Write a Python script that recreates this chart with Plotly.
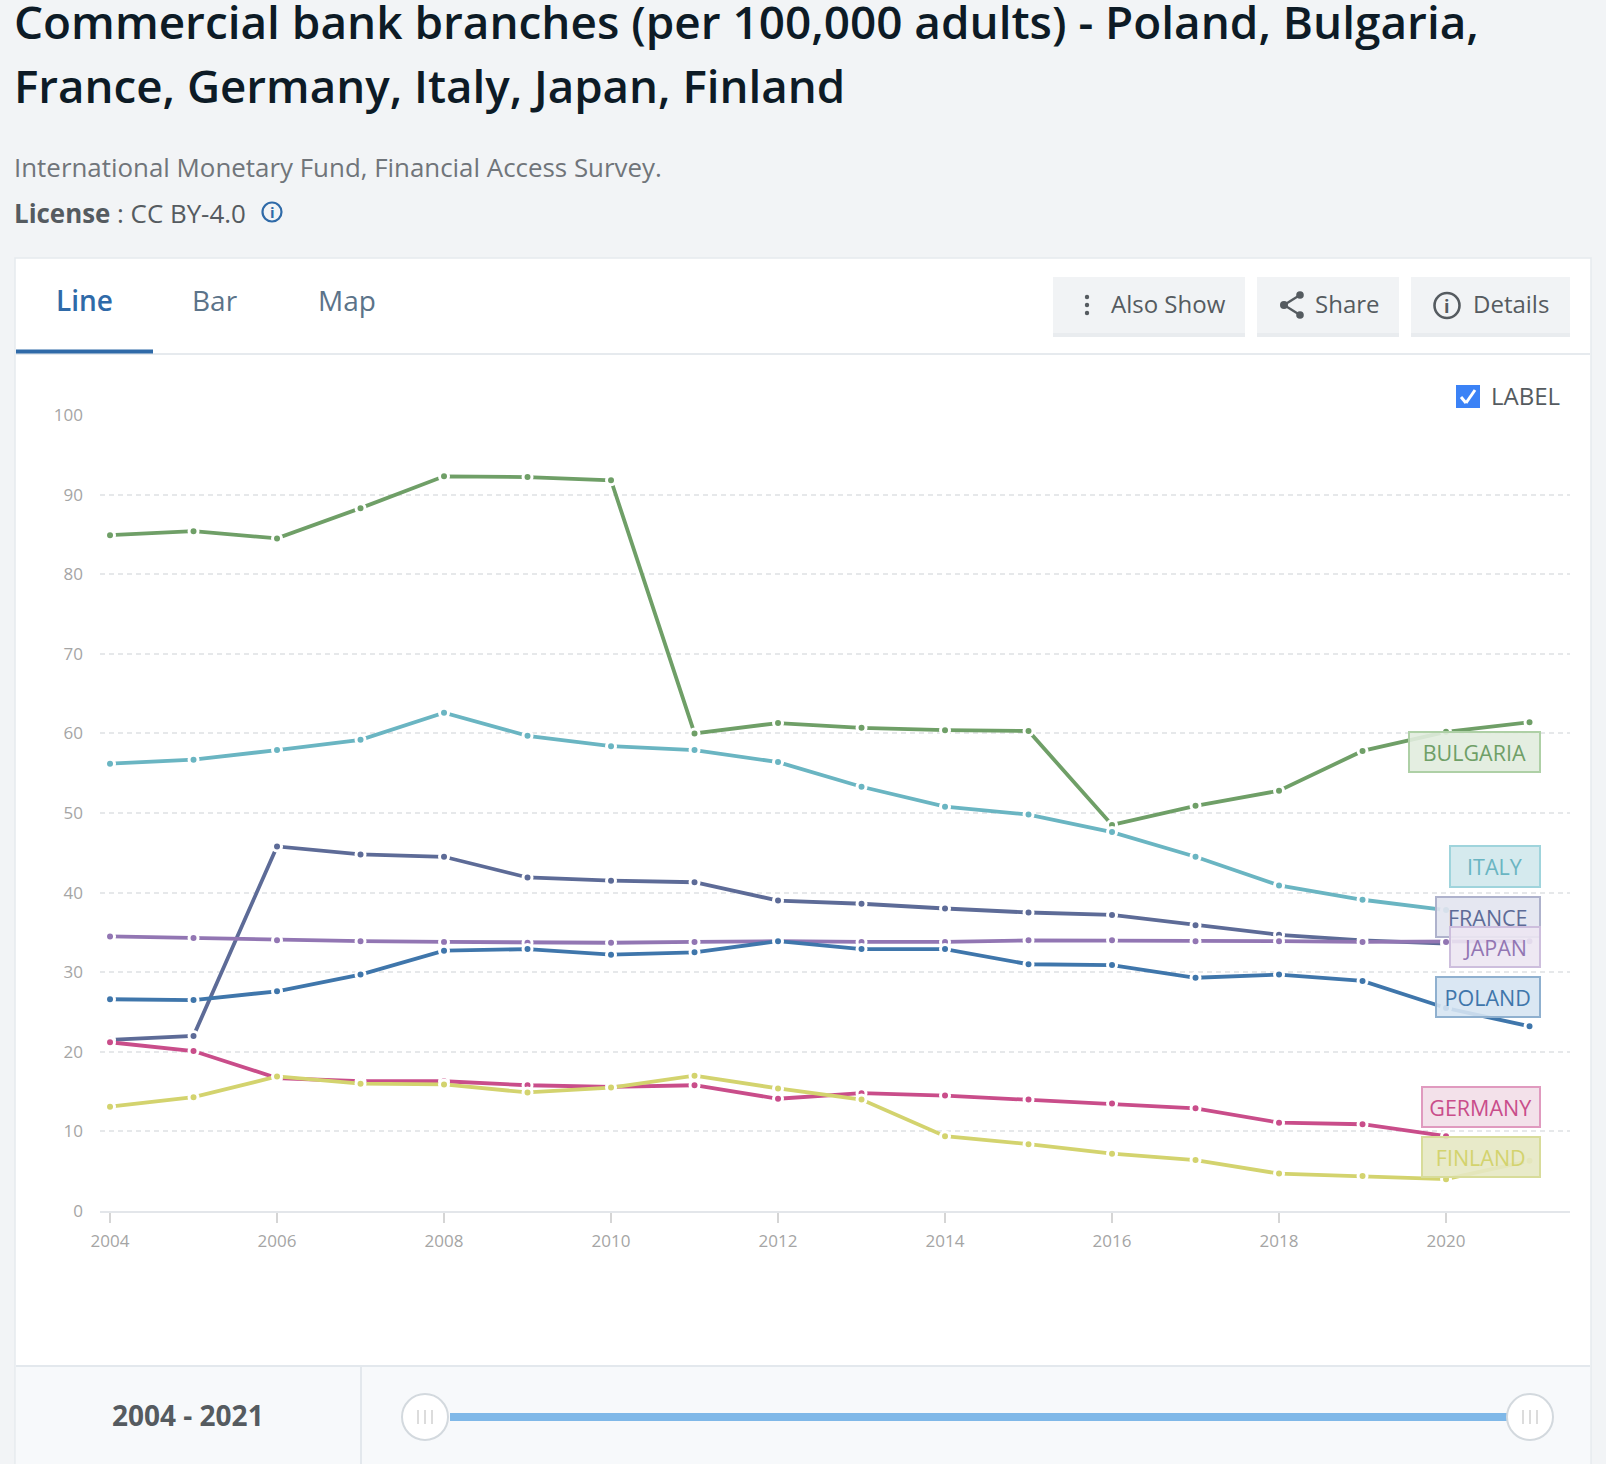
import plotly.graph_objects as go

years = list(range(2004, 2022))
bulgaria = [84.9, 85.4, 84.5, 88.3, 92.3, 92.2, 91.8, 60.0, 61.3, 60.7, 60.4, 60.3, 48.5, 50.9, 52.8, 57.8, 60.2, 61.4]
italy = [56.2, 56.7, 57.9, 59.2, 62.6, 59.7, 58.4, 57.9, 56.4, 53.3, 50.8, 49.8, 47.6, 44.5, 40.9, 39.1, 37.8, None]
france = [21.5, 22.0, 45.8, 44.8, 44.5, 41.9, 41.5, 41.3, 39.0, 38.6, 38.0, 37.5, 37.2, 35.9, 34.7, 34.0, 33.6, None]
japan = [34.5, 34.3, 34.0, 33.9, 33.8, 33.7, 33.7, 33.8, 33.9, 33.8, 33.8, 34.0, 34.0, 33.9, 33.9, 33.8, 33.8, 33.9]
poland = [26.6, 26.5, 27.6, 29.7, 32.7, 32.9, 32.2, 32.5, 33.9, 32.9, 32.9, 31.0, 30.9, 29.3, 29.7, 28.9, 25.5, 23.2]
germany = [21.2, 20.1, 16.7, 16.3, 16.3, 15.8, 15.6, 15.8, 14.1, 14.8, 14.5, 14.0, 13.5, 12.9, 11.1, 10.9, 9.4, None]
finland = [13.1, 14.3, 16.9, 16.0, 15.9, 14.9, 15.5, 17.0, 15.4, 14.0, 9.4, 8.4, 7.2, 6.4, 4.7, 4.4, 4.0, 6.3]

names = ["POLAND", "BULGARIA", "FRANCE", "GERMANY", "ITALY", "JAPAN", "FINLAND"]
values = [poland, bulgaria, france, germany, italy, japan, finland]
colors = ["#3f76ab", "#6f9f67", "#5d6b97", "#c94d8a", "#6ab5c2", "#9276b3", "#d3d36e"]
fills = ["rgba(214,228,242,0.9)", "rgba(225,236,222,0.9)", "rgba(226,228,240,0.9)", "rgba(242,222,232,0.9)",
         "rgba(209,232,237,0.92)", "rgba(236,230,242,0.9)", "rgba(230,232,195,0.9)"]
borders = ["#8fb0cf", "#aed0a6", "#aeb2cc", "#e09abf", "#9fd4dc", "#cdbedd", "#d8dc9a"]
# label box: left, top, right, bottom in page pixels
boxes = [(1435.7, 975.7, 1540.7, 1016), (1408.5, 730.7, 1540.7, 771), (1435.7, 895.7, 1540.7, 936), (1421.7, 1085.7, 1540.7, 1125.7),
         (1449.3, 845.4, 1540.7, 886), (1449.3, 925.7, 1540.7, 966), (1421.7, 1135.7, 1540.7, 1175.7)]

W, H = 1606, 1464
L, R, T, B = 100, 1570, 415, 1211
PW, PH = R - L, B - T
px = lambda x: (x - L) / PW
py = lambda y: 1 - (y - T) / PH
FONT = "Open Sans"

fig = go.Figure()
draw_order = [1, 4, 2, 5, 0, 3, 6]
for i in draw_order:
    fig.add_trace(go.Scatter(x=years, y=values[i], mode="lines+markers", name=names[i], showlegend=False,
                             line=dict(color=colors[i], width=3.8),
                             marker=dict(color=colors[i], size=9, line=dict(color="white", width=3)),
                             cliponaxis=False))

shapes = []
def rect(x0, y0, x1, y1, fill, line=None, lw=0, layer="below"):
    shapes.append(dict(type="rect", xref="paper", yref="paper", x0=px(x0), x1=px(x1), y0=py(y0), y1=py(y1),
                       fillcolor=fill, line=dict(color=line or fill, width=lw), layer=layer))
def seg(x0, y0, x1, y1, color, lw=2, layer="below"):
    shapes.append(dict(type="line", xref="paper", yref="paper", x0=px(x0), x1=px(x1), y0=py(y0), y1=py(y1),
                       line=dict(color=color, width=lw), layer=layer))
def circ(cx, cy, r, fill="rgba(0,0,0,0)", line="rgba(0,0,0,0)", lw=0, layer="below"):
    shapes.append(dict(type="circle", xref="paper", yref="paper", x0=px(cx - r), x1=px(cx + r), y0=py(cy - r), y1=py(cy + r),
                       fillcolor=fill, line=dict(color=line, width=lw), layer=layer))

notes = []
def text(x, y, s, size, color, anchor="left", weight=400):
    notes.append(dict(xref="paper", yref="paper", x=px(x), y=py(y), text=s, showarrow=False, xanchor=anchor, yanchor="middle",
                      align=anchor, font=dict(family=FONT, size=size, color=color, weight=weight)))

# card and panels
rect(15, 258, 1591, 1470, "white", "#e6eaee", 1.5)
seg(16, 354, 1590, 354, "#e6eaee", 2)
rect(16, 349.5, 153, 353.5, "#2f6aa8")
rect(16, 1366, 1590, 1470, "#f7f9fb")
seg(16, 1366, 1590, 1366, "#e3e8ed", 2)
seg(361, 1366, 361, 1470, "#e3e8ed", 2)

# slider
rect(450, 1413, 1507, 1421, "#7fb8e8")
for cx in (425, 1530):
    circ(cx, 1417, 23, "white", "#d3d9de", 2)
    for dx in (-7, 0, 7):
        seg(cx + dx, 1410, cx + dx, 1424, "#dcdcdc", 2)

# buttons
for x0, x1 in ((1053, 1245), (1257, 1399), (1411, 1570)):
    rect(x0, 277, x1, 337, "#e9ecef")
    rect(x0, 277, x1, 333, "#f1f3f5")
for dy in (-8, 0, 8):
    circ(1087, 305 + dy, 2.2, "#555b60")
seg(1284, 305, 1300, 295, "#555b60", 2.4)
seg(1284, 305, 1300, 315, "#555b60", 2.4)
circ(1284, 305, 4, "#555b60")
circ(1300, 295, 3.8, "#555b60")
circ(1300, 315, 3.8, "#555b60")
circ(1447, 305.5, 12.5, "rgba(0,0,0,0)", "#555b60", 2.6)
circ(272, 212, 9.5, "rgba(0,0,0,0)", "#2f6aa8", 2.2)

# checkbox
rect(1456, 385, 1480, 408, "#3b82f6")
seg(1461, 397, 1466, 403, "white", 3)
seg(1466, 403, 1475, 390, "white", 3)

# texts
text(12, 21, "Commercial bank branches (per 100,000 adults) - Poland, Bulgaria,", 45.9, "#0d1b26", weight=600)
text(12, 85, "France, Germany, Italy, Japan, Finland", 45.7, "#0d1b26", weight=600)
text(12, 167, "International Monetary Fund, Financial Access Survey.", 25.9, "#70757a")
text(12, 213, "<b>License</b> : CC BY-4.0", 25.9, "#555b60")
text(272, 212, "i", 15, "#2f6aa8", "center", 700)
text(54, 300, "Line", 28, "#2f6aa8", weight=600)
text(190, 300, "Bar", 28, "#5b7389")
text(316, 300, "Map", 28, "#5b7389")
text(1109, 303, "Also Show", 24, "#555b60")
text(1313, 303, "Share", 24, "#555b60")
text(1471, 303, "Details", 24, "#555b60")
text(1447, 305.5, "i", 18, "#555b60", "center", 700)
text(1489, 395, "LABEL", 24, "#555b60")
text(188, 1415, "2004 - 2021", 28, "#555b60", "center", 700)

# series labels
for name, c, f, b, (x0, y0, x1, y1) in zip(names, colors, fills, borders, boxes):
    notes.append(dict(xref="paper", yref="paper", x=px(x1), y=py(y0), xanchor="right", yanchor="top", text=name,
                      showarrow=False, align="center", valign="middle", width=x1 - x0 - 3.5, height=y1 - y0 - 2, borderpad=0,
                      borderwidth=2, bordercolor=b, bgcolor=f, font=dict(family=FONT, size=21.5, color=c)))

fig.update_layout(
    width=W, height=H, margin=dict(l=L, r=W - R, t=T, b=H - B, pad=0, autoexpand=False),
    paper_bgcolor="#f2f4f6", plot_bgcolor="rgba(0,0,0,0)", shapes=shapes, annotations=notes,
    font=dict(family=FONT),
    xaxis=dict(range=[2004 - (110 - L) / 83.35, 2021 + (R - 1529.6) / 83.35], tick0=2004, dtick=2, showgrid=False, zeroline=False,
               showline=True, linecolor="#e3e6ea", linewidth=2, ticks="outside", ticklen=10, tickwidth=1.5, tickcolor="#d5d5d5",
               ticklabelstandoff=4, tickfont=dict(family=FONT, size=17, color="#a5a5a5")),
    yaxis=dict(range=[0, 100], tick0=0, dtick=10, showgrid=True, gridcolor="#e6e8ea", griddash="5px,4px", gridwidth=1.5,
               zeroline=False, showline=False, ticks="", ticklabelstandoff=16,
               tickfont=dict(family=FONT, size=17, color="#a5a5a5")),
)
fig.write_html("out.html", config=dict(displayModeBar=False),
               post_script="document.body.style.margin='0';document.body.style.overflow='hidden';")
